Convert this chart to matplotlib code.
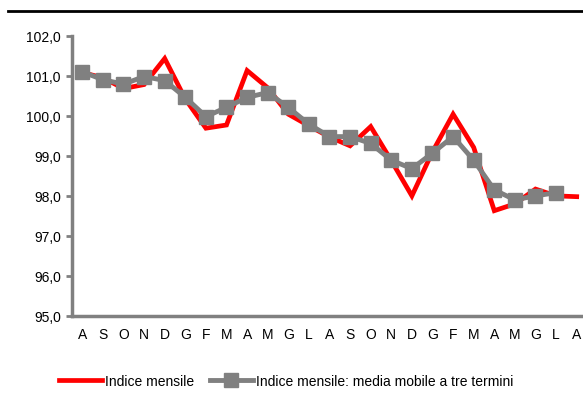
import matplotlib
matplotlib.use("Agg")
import matplotlib.pyplot as plt
import numpy as np
from matplotlib.lines import Line2D

plt.rcParams['font.family'] = ['Liberation Sans', 'DejaVu Sans']

months = ["A", "S", "O", "N", "D", "G", "F", "M", "A", "M", "G", "L",
          "A", "S", "O", "N", "D", "G", "F", "M", "A", "M", "G", "L", "A"]

indice_mensile = [101.08, 100.95, 100.68, 100.78, 101.43, 100.42, 99.69, 99.77,
                  101.13, 100.7, 100.04, 99.75, 99.47, 99.25, 99.73, 98.88,
                  98.0, 99.1, 100.04, 99.21, 97.63, 97.8, 98.17, 98.0, 97.98]

media_mobile = [101.1, 100.9, 100.79, 100.98, 100.88, 100.46, 99.98, 100.21,
                100.46, 100.58, 100.21, 99.79, 99.48, 99.48, 99.31, 98.89,
                98.68, 99.07, 99.48, 98.89, 98.15, 97.9, 98.0, 98.08, np.nan]

yticks = [95.0, 96.0, 97.0, 98.0, 99.0, 100.0, 101.0, 102.0]

W, H = 583, 402
fig = plt.figure(figsize=(W / 100, H / 100), dpi=100)
ax = fig.add_axes([72 / W, 1 - 317 / H, (587 - 72) / W, (317 - 36.7) / H])

x = np.arange(len(months))
ax.plot(x, indice_mensile, color="#ff0000", lw=3.4, solid_joinstyle="miter", zorder=2)
ax.plot(x, media_mobile, color="#808080", lw=3.5, marker="s", markersize=10,
        markerfacecolor="#808080", markeredgecolor="#808080", zorder=3)

ax.set_xlim(-0.5, len(months) - 0.5)
ax.set_ylim(95, 102)
ax.set_yticks(yticks)
ax.set_yticklabels([f"{v:.1f}".replace(".", ",") for v in yticks], fontsize=10)
ax.set_xticks(x)
ax.set_xticklabels(months, fontsize=10)

for s in ["top", "right"]:
    ax.spines[s].set_visible(False)
for s in ["left", "bottom"]:
    ax.spines[s].set_color("#808080")
    ax.spines[s].set_linewidth(2.5)
ax.tick_params(axis="y", direction="out", length=4, width=2, color="#808080", pad=4)
ax.tick_params(axis="x", length=0, pad=8)
for ln in ax.lines:
    ln.set_clip_on(False)

# decorative top line
fig.add_artist(Line2D([8 / W, 1.0], [1 - 12 / H, 1 - 12 / H], color="black", lw=2))

handles = [Line2D([], [], color="#ff0000", lw=3.4),
           Line2D([], [], color="#808080", lw=3.5, marker="s", markersize=10)]
fig.legend(handles, ["Indice mensile", "Indice mensile: media mobile a tre termini"],
           loc="center", bbox_to_anchor=(286 / W, 1 - 382 / H), ncol=2, frameon=False,
           fontsize=10, handlelength=3.1, handletextpad=0.2, columnspacing=1.15)

fig.savefig("out.png", dpi=100)
